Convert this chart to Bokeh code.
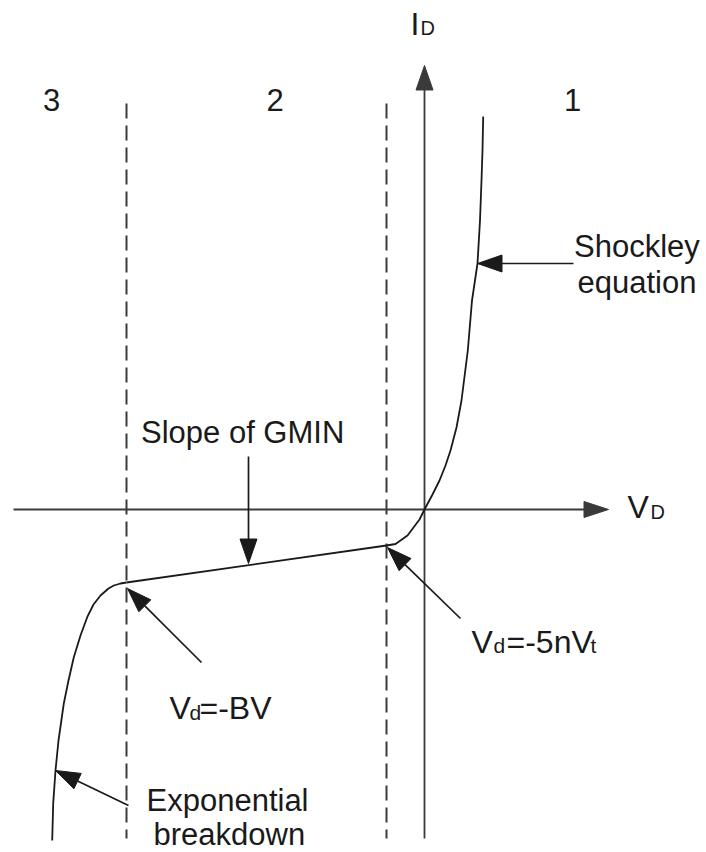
import numpy as np
from bokeh.plotting import figure
from bokeh.models import Range1d
from bokeh.core.properties import value
from bokeh.embed import file_html
from bokeh.resources import INLINE

# Diode I-V characteristic used by the simulator model (arbitrary units,
# origin at V_D = 0, I_D = 0).
BV = 2.98           # breakdown voltage magnitude
V_KNEE = -0.38      # -5 n Vt

# Region 3: exponential breakdown, from the bottom up to V_d = -BV
region3_v = [-3.723, -3.713, -3.69, -3.66, -3.607, -3.56, -3.507, -3.44,
             -3.373, -3.31, -3.24, -3.16, -3.107, -3.04, -2.98]
region3_i = [-3.31, -2.94, -2.61, -2.31, -1.94, -1.71, -1.477, -1.26,
             -1.077, -0.95, -0.86, -0.79, -0.76, -0.74, -0.73]

# Region 2: linear region with slope GMIN
region2_v = [-2.98, -0.38]
region2_i = [-0.73, -0.36]

# Region 1: Shockley equation
region1_v = [-0.38, -0.32, -0.29, -0.24, -0.17, -0.11, -0.05, 0.0, 0.08,
             0.15, 0.21, 0.26, 0.32, 0.37, 0.433, 0.475, 0.53, 0.555,
             0.57, 0.58, 0.587]
region1_i = [-0.36, -0.35, -0.345, -0.31, -0.26, -0.18, -0.10, 0.0, 0.15,
             0.29, 0.44, 0.59, 0.82, 1.09, 1.59, 2.09, 2.46, 2.89,
             3.29, 3.59, 3.93]

region_labels = ["3", "2", "1"]
region_label_v = [-3.73, -1.495, 1.48]

X0, X1 = -4.24, 2.82
Y0, Y1 = -3.43, 5.09

INK = "#1a1a1a"
LINE = "#3a3a3a"
FONT = value("Liberation Sans")

p = figure(width=706, height=852, output_backend="svg", toolbar_location=None,
           x_range=Range1d(X0, X1), y_range=Range1d(Y0, Y1),
           x_axis_location=None, y_axis_location=None,
           min_border=0, outline_line_color=None, background_fill_color="white",
           border_fill_color="white")
p.grid.visible = False


def arrow(tail, tip, length=0.245, half=0.085, width=1.7, color=INK):
    """Shaft plus filled triangular head (data units are isotropic)."""
    tx, ty = tail
    hx, hy = tip
    d = np.hypot(hx - tx, hy - ty)
    ux, uy = (hx - tx) / d, (hy - ty) / d
    bx, by = hx - length * ux, hy - length * uy
    nx, ny = -uy, ux
    p.line([tx, bx], [ty, by], line_color=color, line_width=width)
    p.patch([hx, bx + half * nx, bx - half * nx],
            [hy, by + half * ny, by - half * ny],
            fill_color=color, line_color=color, line_width=1)


# Coordinate axes
arrow((-4.11, 0.0), (1.84, 0.0), half=0.08, width=1.8, color=LINE)
arrow((0.0, -3.29), (0.0, 4.44), half=0.085, width=1.8, color=LINE)

# Region boundaries at V_d = -BV and V_d = -5 n Vt
for vb in (-BV, V_KNEE):
    p.line([vb, vb], [4.06, -3.29], line_color=LINE, line_width=2,
           line_dash="15 7")

# Characteristic curve
p.line(region3_v, region3_i, line_color=INK, line_width=1.8, line_join="round")
p.line(region2_v, region2_i, line_color=INK, line_width=1.8)
p.line(region1_v, region1_i, line_color=INK, line_width=1.8, line_join="round")

# Callout arrows
arrow((1.49, 2.46), (0.53, 2.46))                 # Shockley equation
arrow((-1.76, 0.53), (-1.76, -0.54))              # Slope of GMIN
arrow((0.36, -1.09), (-0.37, -0.38))              # V_d = -5nVt
arrow((-2.23, -1.53), (-2.97, -0.79))             # V_d = -BV
arrow((-2.96, -2.96), (-3.69, -2.61))             # Exponential breakdown


def txt(x, y, s, size, align="left"):
    p.text(x=[x], y=[y], text=[s], text_font=FONT, text_font_size=size,
           text_color=INK, text_align=align, text_baseline="alphabetic")


# Region numbers
p.text(x=region_label_v, y=[4.10] * 3, text=region_labels, text_font=FONT,
       text_font_size="31px", text_color=INK, text_align="center",
       text_baseline="alphabetic")

txt(-2.835, 0.77, "Slope of GMIN", "31px")
txt(1.495, 2.63, "Shockley", "31px")
txt(1.53, 2.27, "equation", "31px")
txt(-2.78, -2.91, "Exponential", "31px")
txt(-2.71, -3.25, "breakdown", "31px")

# V_d=-BV
txt(-2.55, -1.98, "V", "32px")
txt(-2.35, -2.03, "d", "21px")
txt(-2.25, -1.98, "=-BV", "32px")

# V_d=-5nV_t
txt(0.47, -1.32, "V", "32px")
txt(0.69, -1.36, "d", "21px")
txt(0.82, -1.32, "=-5nV", "32px")
txt(1.66, -1.36, "t", "21px")

# Axis titles
txt(2.03, 0.03, "V", "32px")
txt(2.26, -0.02, "D", "20px")
txt(-0.14, 4.86, "I", "32px")
txt(-0.04, 4.82, "D", "20px")

open("out.html", "w").write(file_html(p, INLINE))
